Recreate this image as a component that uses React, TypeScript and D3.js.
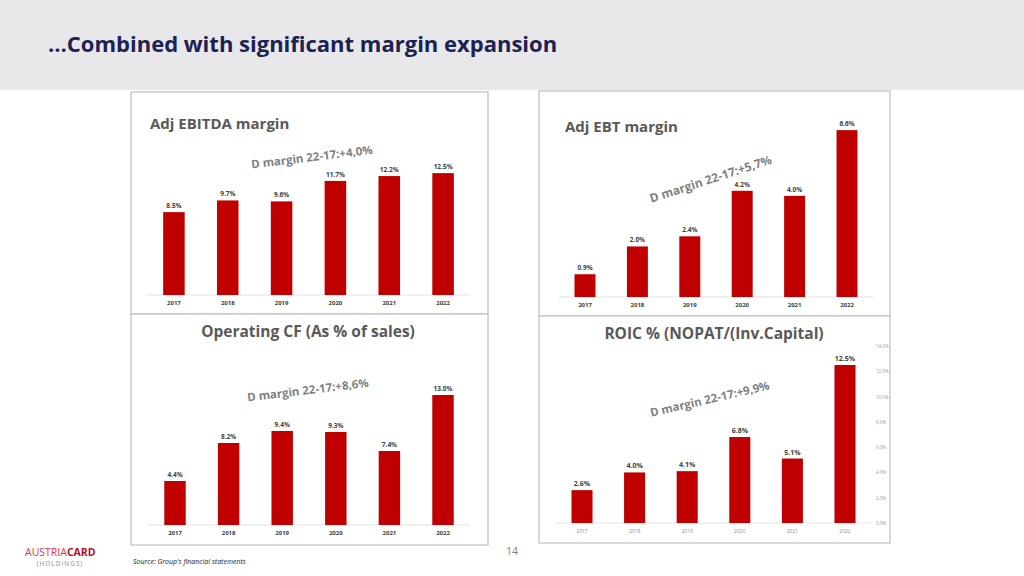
import React from "react";
import * as d3 from "d3";

const years = ["2017", "2018", "2019", "2020", "2021", "2022"];
const ebitdaMargin = [8.5, 9.7, 9.6, 11.7, 12.2, 12.5];
const ebtMargin = [0.9, 2.0, 2.4, 4.2, 4.0, 6.6];
const opCfMargin = [4.4, 8.2, 9.4, 9.3, 7.4, 13.0];
const roicValues = [2.6, 4.0, 4.1, 6.8, 5.1, 12.5];
const roicTicks = [0, 2, 4, 6, 8, 10, 12, 14];

const titles = ["Adj EBITDA margin", "Adj EBT margin", "Operating CF (As % of sales)", "ROIC % (NOPAT/(Inv.Capital)"];
const deltas = ["D margin 22-17:+4,0%", "D margin 22-17:+5,7%", "D margin 22-17:+8,6%", "D margin 22-17:+9,9%"];

const RED = "#c00000";
const FONT = "'Open Sans', 'Noto Sans', sans-serif";

type Panel = {
  values: number[];
  title: string;
  delta: string;
  box: [number, number, number, number];
  xr: [number, number];
  yDomainMax: number;
  yr: [number, number];
  titleX: number; titleY: number; titleAnchor: string; titleSize: number;
  dx: number; dy: number; rot: number; dSize: number;
  labelSize: number; yearSize: number; yearBold: boolean; yearColor: string;
  rightAxis?: boolean;
};

const panels: Panel[] = [
  {
    values: ebitdaMargin, title: titles[0], delta: deltas[0],
    box: [131, 92, 488, 314], xr: [147, 470], yDomainMax: 14, yr: [295, 158.5],
    titleX: 150, titleY: 129, titleAnchor: "start", titleSize: 15,
    dx: 312, dy: 158, rot: -7, dSize: 11.5,
    labelSize: 6.5, yearSize: 6, yearBold: true, yearColor: "#404040",
  },
  {
    values: ebtMargin, title: titles[1], delta: deltas[1],
    box: [539, 91, 890, 316], xr: [558.8, 873.2], yDomainMax: 7, yr: [297, 120],
    titleX: 565, titleY: 132, titleAnchor: "start", titleSize: 15,
    dx: 711, dy: 180, rot: -18, dSize: 12,
    labelSize: 6.5, yearSize: 6, yearBold: true, yearColor: "#404040",
  },
  {
    values: opCfMargin, title: titles[2], delta: deltas[2],
    box: [131, 314, 488, 545], xr: [148.2, 469.8], yDomainMax: 14, yr: [525, 385],
    titleX: 308, titleY: 337, titleAnchor: "middle", titleSize: 15.5,
    dx: 308, dy: 391, rot: -7, dSize: 11.5,
    labelSize: 6.5, yearSize: 6, yearBold: true, yearColor: "#404040",
  },
  {
    values: roicValues, title: titles[3], delta: deltas[3],
    box: [539, 316, 890, 543], xr: [555.7, 871.3], yDomainMax: 14, yr: [523, 346],
    titleX: 714, titleY: 339, titleAnchor: "middle", titleSize: 15.5,
    dx: 710, dy: 400, rot: -13, dSize: 11.5,
    labelSize: 7, yearSize: 5, yearBold: false, yearColor: "#8c8c8c",
    rightAxis: true,
  },
];

function ChartPanel({ p }: { p: Panel }) {
  const x = d3.scaleBand<string>().domain(years).range(p.xr).paddingInner(0.6).paddingOuter(0.3);
  const y = d3.scaleLinear().domain([0, p.yDomainMax]).range(p.yr);
  const [bx0, by0, bx1, by1] = p.box;
  const fmt = d3.format(".1f");
  return (
    <g>
      <rect x={bx0} y={by0} width={bx1 - bx0} height={by1 - by0} fill="#fff" stroke="#bfbfbf" strokeWidth={1.2} />
      <text x={p.titleX} y={p.titleY} textAnchor={p.titleAnchor as any} fontFamily={FONT} fontWeight={700} fontSize={p.titleSize} fill="#595959">{p.title}</text>
      <line x1={p.xr[0]} x2={p.xr[1]} y1={y(0)} y2={y(0)} stroke="#e3e3e3" strokeWidth={1} />
      {p.values.map((v, i) => (
        <g key={years[i]}>
          <rect x={x(years[i])} y={y(v)} width={x.bandwidth()} height={y(0) - y(v)} fill={RED} />
          <text x={(x(years[i]) as number) + x.bandwidth() / 2} y={y(v) - 4} textAnchor="middle" fontFamily={FONT} fontWeight={700} fontSize={p.labelSize} fill="#404040">{fmt(v) + "%"}</text>
          <text x={(x(years[i]) as number) + x.bandwidth() / 2} y={y(0) + 10} textAnchor="middle" fontFamily={FONT} fontWeight={p.yearBold ? 700 : 400} fontSize={p.yearSize} fill={p.yearColor}>{years[i]}</text>
        </g>
      ))}
      {p.rightAxis && roicTicks.map((t) => (
        <text key={t} x={876} y={y(t) + 2} fontFamily={FONT} fontSize={4.5} fill="#9a9a9a">{fmt(t) + "%"}</text>
      ))}
      <text x={p.dx} y={p.dy} textAnchor="middle" dominantBaseline="middle" transform={`rotate(${p.rot} ${p.dx} ${p.dy})`} fontFamily={FONT} fontWeight={700} fontSize={p.dSize} fill="#7f7f7f">{p.delta}</text>
    </g>
  );
}

export default function App() {
  return (
    <svg width={1024} height={576} style={{ position: "absolute", left: 0, top: 0, background: "#fff" }}>
      <rect x={0} y={0} width={1024} height={90} fill="#e8e8eb" />
      <text x={48} y={52} fontFamily={FONT} fontWeight={700} fontSize={22} fill="#1c2252">…Combined with significant margin expansion</text>
      {panels.map((p, i) => <ChartPanel key={i} p={p} />)}
      <text x={512} y={555} textAnchor="middle" fontFamily={FONT} fontSize={10.5} fill="#7f7f7f">14</text>
      <text x={133} y={564} fontFamily={FONT} fontStyle="italic" fontSize={7} fill="#222">Source: Group's financial statements</text>
      <text x={25} y={556} fontFamily={FONT} fontSize={10.5} fill="#c41e3a" fontWeight={400}>
        <tspan fill="#d6384a">AUSTRIA</tspan><tspan fill="#b0102b" fontWeight={700}>CARD</tspan>
      </text>
      <text x={60} y={566} textAnchor="middle" fontFamily={FONT} fontSize={6.5} letterSpacing={1} fill="#8c8c8c">{"⟨HOLDINGS⟩"}</text>
    </svg>
  );
}
